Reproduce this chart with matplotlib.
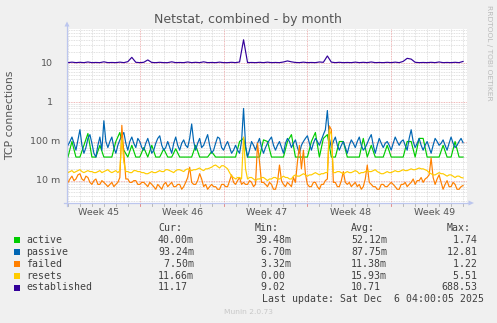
import numpy as np
import matplotlib
matplotlib.use("Agg")
import matplotlib.pyplot as plt
from matplotlib.lines import Line2D
from matplotlib.patches import Polygon, Rectangle

# ---------------- data ----------------
# coarse series: one sample every 8 hours; fine series: every 4 hours
days_coarse = np.arange(100) / 3.0
days_fine = np.arange(199) / 6.0

active = [0.04, 0.1, 0.04, 0.04, 0.08, 0.16, 0.04, 0.04, 0.08, 0.04,
          0.04, 0.04, 0.1, 0.17, 0.06, 0.04, 0.08, 0.04, 0.04, 0.07,
          0.04, 0.08, 0.04, 0.04, 0.065, 0.04, 0.04, 0.065, 0.04, 0.04,
          0.04, 0.04, 0.08, 0.04, 0.04, 0.04, 0.055, 0.04, 0.04, 0.04,
          0.04, 0.04, 0.04, 0.1, 0.12, 0.04, 0.04, 0.04, 0.04, 0.11,
          0.1, 0.04, 0.04, 0.04, 0.04, 0.1, 0.15, 0.04, 0.04, 0.04,
          0.04, 0.1, 0.17, 0.04, 0.12, 0.15, 0.04, 0.04, 0.1, 0.1,
          0.04, 0.04, 0.04, 0.04, 0.12, 0.04, 0.08, 0.04, 0.04, 0.04,
          0.08, 0.04, 0.04, 0.04, 0.04, 0.1, 0.1, 0.04, 0.12, 0.12,
          0.04, 0.04, 0.04, 0.04, 0.08, 0.04, 0.04, 0.1, 0.04, 0.04]

passive = [0.08, 0.1, 0.13, 0.09, 0.06, 0.11, 0.2, 0.08, 0.05, 0.07, 0.12, 0.15, 0.09, 0.05, 0.04, 0.08, 0.13, 0.06, 0.34, 0.1,
           0.07, 0.1, 0.13, 0.07, 0.05, 0.08, 0.11, 0.14, 0.17, 0.09, 0.06, 0.1, 0.13, 0.09, 0.07, 0.12, 0.1, 0.07, 0.06, 0.09,
           0.12, 0.08, 0.05, 0.06, 0.09, 0.12, 0.14, 0.08, 0.06, 0.07, 0.1, 0.07, 0.05, 0.09, 0.13, 0.08, 0.06, 0.09, 0.11, 0.08,
           0.07, 0.12, 0.28, 0.1, 0.06, 0.09, 0.12, 0.07, 0.08, 0.11, 0.15, 0.08, 0.05, 0.06, 0.09, 0.13, 0.12, 0.07, 0.06, 0.08,
           0.1, 0.07, 0.05, 0.06, 0.08, 0.06, 0.05, 0.1, 0.7, 0.08, 0.04, 0.06, 0.1, 0.08, 0.06, 0.09, 0.12, 0.07, 0.05, 0.07,
           0.09, 0.11, 0.13, 0.08, 0.06, 0.08, 0.1, 0.07, 0.05, 0.09, 0.12, 0.1, 0.07, 0.09, 0.11, 0.07, 0.05, 0.08, 0.1, 0.12,
           0.14, 0.09, 0.06, 0.09, 0.12, 0.1, 0.08, 0.11, 0.15, 0.2, 0.62, 0.12, 0.07, 0.1, 0.13, 0.08, 0.06, 0.08, 0.1, 0.07,
           0.05, 0.08, 0.11, 0.09, 0.07, 0.1, 0.13, 0.08, 0.06, 0.07, 0.09, 0.12, 0.15, 0.08, 0.05, 0.08, 0.12, 0.09, 0.07, 0.09,
           0.1, 0.08, 0.06, 0.09, 0.13, 0.1, 0.08, 0.1, 0.11, 0.08, 0.06, 0.12, 0.2, 0.1, 0.07, 0.09, 0.12, 0.08, 0.06, 0.08,
           0.1, 0.07, 0.05, 0.08, 0.12, 0.1, 0.08, 0.09, 0.11, 0.08, 0.06, 0.09, 0.13, 0.09, 0.07, 0.08, 0.1, 0.12, 0.093]

failed = [0.009, 0.011, 0.013, 0.01, 0.011, 0.014, 0.015, 0.011, 0.01, 0.013, 0.012, 0.009, 0.008, 0.01, 0.011, 0.008, 0.008, 0.01, 0.009, 0.008,
          0.007, 0.008, 0.009, 0.007, 0.008, 0.009, 0.012, 0.26, 0.05, 0.011, 0.011, 0.009, 0.009, 0.01, 0.01, 0.008, 0.008, 0.009, 0.009, 0.008,
          0.007, 0.009, 0.008, 0.007, 0.006, 0.008, 0.007, 0.006, 0.008, 0.009, 0.007, 0.008, 0.009, 0.007, 0.007, 0.008, 0.008, 0.006, 0.007, 0.009,
          0.012, 0.022, 0.009, 0.008, 0.008, 0.01, 0.015, 0.011, 0.007, 0.008, 0.006, 0.007, 0.008, 0.007, 0.007, 0.006, 0.006, 0.008, 0.008, 0.007,
          0.007, 0.01, 0.014, 0.009, 0.008, 0.01, 0.012, 0.008, 0.009, 0.008, 0.008, 0.01, 0.009, 0.007, 0.008, 0.09, 0.03, 0.009, 0.009, 0.008,
          0.007, 0.009, 0.008, 0.006, 0.006, 0.009, 0.025, 0.01, 0.008, 0.007, 0.009, 0.008, 0.007, 0.012, 0.009, 0.03, 0.08, 0.02, 0.06, 0.015,
          0.008, 0.007, 0.007, 0.009, 0.009, 0.007, 0.006, 0.008, 0.008, 0.01, 0.011, 0.25, 0.2, 0.009, 0.009, 0.007, 0.007, 0.01, 0.017, 0.009,
          0.008, 0.009, 0.007, 0.008, 0.009, 0.007, 0.008, 0.006, 0.007, 0.011, 0.025, 0.009, 0.008, 0.007, 0.007, 0.006, 0.006, 0.008, 0.008, 0.007,
          0.007, 0.008, 0.009, 0.008, 0.007, 0.006, 0.006, 0.008, 0.008, 0.009, 0.007, 0.008, 0.009, 0.011, 0.008, 0.01, 0.01, 0.012, 0.009, 0.011,
          0.012, 0.014, 0.038, 0.012, 0.008, 0.011, 0.014, 0.009, 0.006, 0.008, 0.01, 0.007, 0.007, 0.009, 0.008, 0.006, 0.006, 0.007, 0.0075]

resets = [0.016, 0.017, 0.018, 0.016, 0.017, 0.018, 0.019, 0.017, 0.016, 0.017, 0.018, 0.017, 0.017, 0.016, 0.016, 0.017, 0.018, 0.016, 0.017, 0.018,
          0.019, 0.017, 0.016, 0.017, 0.018, 0.016, 0.018, 0.12, 0.03, 0.017, 0.017, 0.016, 0.016, 0.018, 0.018, 0.017, 0.017, 0.016, 0.016, 0.015,
          0.015, 0.016, 0.017, 0.016, 0.016, 0.017, 0.018, 0.017, 0.017, 0.019, 0.019, 0.018, 0.017, 0.016, 0.018, 0.019, 0.019, 0.018, 0.017, 0.019,
          0.02, 0.019, 0.018, 0.019, 0.019, 0.02, 0.021, 0.019, 0.018, 0.02, 0.02, 0.021, 0.022, 0.024, 0.025, 0.023, 0.021, 0.024, 0.024, 0.022,
          0.02, 0.016, 0.013, 0.012, 0.011, 0.012, 0.012, 0.011, 0.13, 0.02, 0.011, 0.012, 0.012, 0.011, 0.01, 0.011, 0.011, 0.012, 0.012, 0.011,
          0.01, 0.011, 0.011, 0.012, 0.012, 0.011, 0.011, 0.012, 0.013, 0.012, 0.012, 0.011, 0.011, 0.013, 0.014, 0.013, 0.013, 0.014, 0.015, 0.014,
          0.013, 0.014, 0.014, 0.015, 0.016, 0.015, 0.014, 0.015, 0.015, 0.016, 0.016, 0.2, 0.15, 0.016, 0.016, 0.017, 0.017, 0.016, 0.015, 0.016,
          0.017, 0.016, 0.016, 0.017, 0.018, 0.017, 0.015, 0.016, 0.016, 0.017, 0.018, 0.017, 0.017, 0.018, 0.019, 0.017, 0.016, 0.015, 0.015, 0.016,
          0.017, 0.016, 0.016, 0.017, 0.018, 0.017, 0.017, 0.018, 0.019, 0.018, 0.018, 0.019, 0.02, 0.019, 0.019, 0.02, 0.021, 0.02, 0.02, 0.019,
          0.018, 0.016, 0.015, 0.014, 0.014, 0.015, 0.016, 0.015, 0.015, 0.014, 0.013, 0.014, 0.014, 0.013, 0.012, 0.013, 0.013, 0.012, 0.0117]

established = [10.4, 10.7, 10.4, 10.6, 10.4, 10.8, 10.4, 10.5, 10.4, 10.9,
               10.4, 10.5, 10.4, 10.7, 10.4, 11.0, 14.2, 10.6, 10.4, 10.6,
               12.2, 10.5, 10.4, 10.6, 10.4, 10.4, 10.9, 10.4, 10.5, 10.4,
               10.8, 10.4, 10.6, 10.4, 10.9, 10.4, 10.5, 10.4, 10.7, 10.4,
               10.4, 10.6, 10.4, 10.8, 40.0, 10.4, 10.5, 10.4, 10.6, 10.4,
               10.7, 10.4, 10.5, 10.4, 10.8, 11.5, 10.9, 10.5, 10.4, 10.7,
               10.4, 10.5, 10.4, 10.8, 10.6, 15.4, 10.7, 10.4, 10.6, 10.4,
               10.5, 10.4, 10.7, 10.4, 10.6, 10.4, 10.8, 10.4, 10.5, 10.4,
               10.6, 10.4, 10.7, 10.4, 11.2, 13.4, 12.8, 10.6, 10.4, 10.5,
               10.4, 10.6, 10.4, 10.8, 10.4, 10.5, 10.4, 10.6, 10.4, 11.17]

series_names = ["active", "passive", "failed", "resets", "established"]
series_colors = ["#00CC00", "#0066B3", "#FF8000", "#FFCC00", "#330099"]

week_labels = ["Week 45", "Week 46", "Week 47", "Week 48", "Week 49"]
week_label_days = [2.58, 9.58, 16.58, 23.58, 30.58]
week_boundaries = [6, 13, 20, 27]

ytick_values = [10, 1, 0.1, 0.01]
ytick_labels = ["10", "1", "100 m", "10 m"]

cur_vals = ["40.00m", "93.24m", " 7.50m", "11.66m", "11.17"]
min_vals = ["39.48m", " 6.70m", " 3.32m", " 0.00", " 9.02"]
avg_vals = ["52.12m", "87.75m", "11.38m", "15.93m", "10.71"]
max_vals = ["  1.74", " 12.81", "  1.22", "  5.51", "688.53"]

# ---------------- figure ----------------
W, H = 497, 323
fig = plt.figure(figsize=(W / 100, H / 100), dpi=100, facecolor="#F0F0F0")

def fx(px):
    return px / W

def fy(py):
    return 1 - py / H

L, R, T, B = 67, 467, 29, 203
ax = fig.add_axes([fx(L), fy(B), (R - L) / W, (B - T) / H])
ax.set_facecolor("white")
ax.set_yscale("log")
ax.set_xlim(-0.08, 33.33)
ylo = 10 ** (1 - (B - 63.3) / 39.1)
yhi = 10 ** (1 + (63.3 - T) / 39.1)
ax.set_ylim(ylo, yhi)
for s in ax.spines.values():
    s.set_visible(False)
ax.set_xticks([])
ax.set_yticks([])
ax.minorticks_off()

dash = (0, (1, 1))
minor_c = "#d6d6d6"
major_c = "#eba0a0"
for d in range(0, 34):
    if d in week_boundaries:
        continue
    ax.axvline(d, color=minor_c, lw=0.6, ls=dash, zorder=1)
for dec in range(-3, 2):
    for k in range(2, 10):
        v = k * 10.0 ** dec
        if ylo < v < yhi:
            ax.axhline(v, color=minor_c, lw=0.6, ls=dash, zorder=1)
for d in week_boundaries:
    ax.axvline(d, color=major_c, lw=0.6, ls=dash, zorder=1.5)
for v in ytick_values:
    ax.axhline(v, color=major_c, lw=0.6, ls=dash, zorder=1.5)

# series
series_x = [days_coarse, days_fine, days_fine, days_fine, days_coarse]
data = [active, passive, failed, resets, established]
for i, (xs, vals, c) in enumerate(zip(series_x, data, series_colors)):
    ax.plot(xs, vals, color=c, lw=0.85, zorder=3 + i)

# tick marks below x axis
tx = ax.get_xaxis_transform()
for d in range(0, 34):
    col = "#e08080" if d in week_boundaries else "#b0b0b0"
    ax.plot([d, d], [0, -2.5 / (B - T)], transform=tx, color=col, lw=0.6, clip_on=False)

for lab, d in zip(week_labels, week_label_days):
    ax.text(d, -9.5 / (B - T), lab, transform=tx, ha="center", va="center",
            fontsize=6.8, color="#555555", family="DejaVu Sans")

ty = ax.get_yaxis_transform()
for v, lab in zip(ytick_values, ytick_labels):
    right = 60 if "m" in lab else 53
    ax.text((right - L) / (R - L), v, lab, transform=ty, ha="right", va="center",
            fontsize=6.8, color="#555555", family="DejaVu Sans")

# axis lines with arrows
axis_c = "#bcc6ee"
fig.add_artist(Line2D([fx(64), fx(469)], [fy(B), fy(B)], color=axis_c, lw=0.9))
fig.add_artist(Line2D([fx(L), fx(L)], [fy(206), fy(26)], color=axis_c, lw=0.9))
fig.add_artist(Polygon([[fx(468.5), fy(200.5)], [fx(474), fy(B)], [fx(468.5), fy(205.5)]],
                       closed=True, facecolor=axis_c, edgecolor="none", transform=fig.transFigure))
fig.add_artist(Polygon([[fx(64.5), fy(26.5)], [fx(L), fy(21.5)], [fx(69.5), fy(26.5)]],
                       closed=True, facecolor=axis_c, edgecolor="none", transform=fig.transFigure))

fig.text(fx(248), fy(22.5), "Netstat, combined - by month", ha="center", va="baseline",
         fontsize=9.0, color="#555555", family="DejaVu Sans")
fig.text(fx(10.5), fy(115), "TCP connections", rotation=90, ha="center", va="center",
         fontsize=7.8, color="#555555", family="DejaVu Sans")
fig.text(fx(488.5), fy(53), "RRDTOOL / TOBI OETIKER", rotation=-90, ha="center", va="center",
         fontsize=5.4, color="#bbbbbb", family="DejaVu Sans")
fig.text(fx(248), fy(312), "Munin 2.0.73", ha="center", va="center",
         fontsize=5.4, color="#c8c8c8", family="DejaVu Sans")

# legend
mono = dict(family="DejaVu Sans Mono", fontsize=7.1, color="#404040", va="center")
header_y = 228.3
fig.text(fx(158), fy(header_y), "Cur:", ha="left", **mono)
fig.text(fx(255), fy(header_y), "Min:", ha="left", **mono)
fig.text(fx(351), fy(header_y), "Avg:", ha="left", **mono)
fig.text(fx(446.7), fy(header_y), "Max:", ha="left", **mono)
row_y = [239.7, 251.7, 263.7, 275.7, 287.5]
for k, name in enumerate(series_names):
    y = row_y[k]
    fig.add_artist(Rectangle((fx(14), fy(y + 3)), 6 / W, 6 / H, facecolor=series_colors[k],
                             edgecolor="none", transform=fig.transFigure))
    fig.text(fx(26.3), fy(y), name, ha="left", **mono)
    fig.text(fx(158), fy(y), cur_vals[k], ha="left", **mono)
    fig.text(fx(255), fy(y), min_vals[k], ha="left", **mono)
    fig.text(fx(351), fy(y), avg_vals[k], ha="left", **mono)
    fig.text(fx(441), fy(y), max_vals[k], ha="left", **mono)
fig.text(fx(261.7), fy(299.5), "Last update: Sat Dec  6 04:00:05 2025", ha="left", **mono)

fig.savefig("out.png", dpi=100, facecolor=fig.get_facecolor())
